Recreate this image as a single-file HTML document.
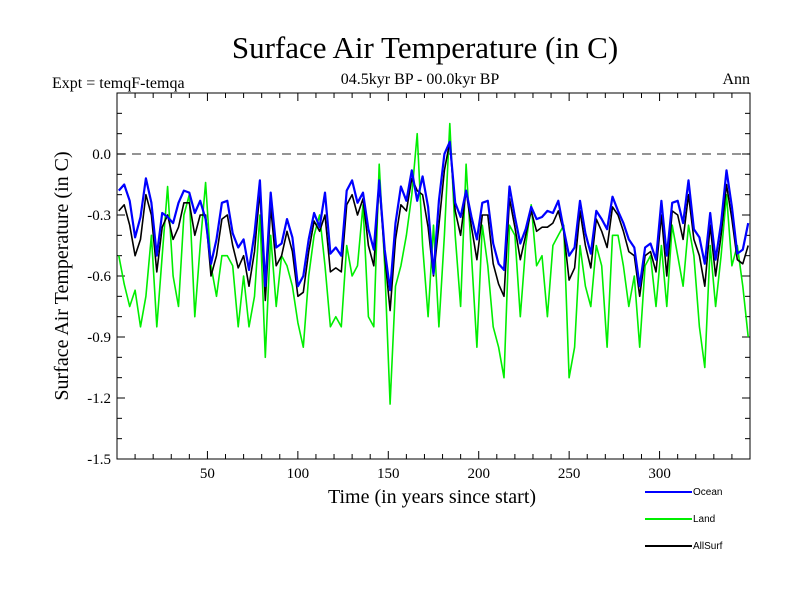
<!DOCTYPE html>
<html>
<head>
<meta charset="utf-8">
<style>
  html,body{margin:0;padding:0;background:#fff;}
  svg{display:block;}
  text{font-family:"Liberation Serif",serif;fill:#000;}
  .lg{font-family:"Liberation Sans",sans-serif;font-size:10px;}
</style>
</head>
<body>
<svg id="chart" width="800" height="600" viewBox="0 0 800 600">
  <text x="425" y="58" font-size="31" text-anchor="middle">Surface Air Temperature (in C)</text>
  <text x="52" y="88" font-size="16">Expt = temqF-temqa</text>
  <text x="420" y="84" font-size="16" text-anchor="middle">04.5kyr BP - 00.0kyr BP</text>
  <text x="750" y="84" font-size="16" text-anchor="end">Ann</text>
  <text transform="translate(68,276) rotate(-90)" font-size="20" text-anchor="middle">Surface Air Temperature (in C)</text>
  <text x="432" y="503" font-size="20" text-anchor="middle">Time (in years since start)</text>
  <g id="axes"></g>
  <g id="series"></g>
  <g>
    <line x1="645" y1="492" x2="692" y2="492" stroke="#0000ff" stroke-width="2"/>
    <text x="693" y="495" class="lg">Ocean</text>
    <line x1="645" y1="519" x2="692" y2="519" stroke="#00ee00" stroke-width="2"/>
    <text x="693" y="522" class="lg">Land</text>
    <line x1="645" y1="546" x2="692" y2="546" stroke="#000" stroke-width="2"/>
    <text x="693" y="549" class="lg">AllSurf</text>
  </g>
</svg>
<script>
const years = [];
for (let y = 1; y <= 349; y += 3) years.push(y);
const ocean = [-0.18,-0.15,-0.23,-0.41,-0.31,-0.12,-0.24,-0.50,-0.29,-0.31,-0.34,-0.24,-0.18,-0.19,-0.29,-0.23,-0.32,-0.54,-0.42,-0.24,
-0.23,-0.39,-0.46,-0.42,-0.57,-0.39,-0.13,-0.65,-0.19,-0.46,-0.44,-0.32,-0.41,-0.65,-0.60,-0.42,-0.29,-0.36,-0.19,-0.49,
-0.46,-0.50,-0.18,-0.13,-0.24,-0.19,-0.37,-0.47,-0.13,-0.47,-0.67,-0.34,-0.16,-0.23,-0.08,-0.23,-0.11,-0.26,-0.59,-0.23,
0.0,0.06,-0.24,-0.31,-0.18,-0.31,-0.42,-0.24,-0.23,-0.44,-0.54,-0.57,-0.16,-0.31,-0.44,-0.37,-0.26,-0.32,-0.31,-0.28,
-0.29,-0.23,-0.37,-0.50,-0.46,-0.23,-0.39,-0.49,-0.28,-0.32,-0.37,-0.21,-0.28,-0.34,-0.42,-0.46,-0.65,-0.46,-0.44,-0.52,
-0.23,-0.50,-0.24,-0.23,-0.34,-0.13,-0.37,-0.41,-0.54,-0.29,-0.52,-0.34,-0.08,-0.26,-0.49,-0.47,-0.34];
const land = [-0.5,-0.64,-0.75,-0.67,-0.85,-0.7,-0.4,-0.85,-0.5,-0.16,-0.6,-0.75,-0.3,-0.2,-0.8,-0.45,-0.14,-0.55,-0.7,-0.5,
-0.5,-0.55,-0.85,-0.6,-0.85,-0.7,-0.3,-1.0,-0.4,-0.75,-0.5,-0.55,-0.65,-0.83,-0.95,-0.6,-0.4,-0.3,-0.55,-0.85,
-0.8,-0.85,-0.45,-0.6,-0.55,-0.25,-0.8,-0.85,-0.05,-0.55,-1.23,-0.65,-0.55,-0.4,-0.2,0.1,-0.45,-0.8,-0.35,-0.85,
-0.4,0.15,-0.4,-0.75,-0.05,-0.5,-0.95,-0.35,-0.55,-0.85,-0.95,-1.1,-0.35,-0.4,-0.8,-0.45,-0.25,-0.55,-0.5,-0.8,
-0.45,-0.4,-0.35,-1.1,-0.95,-0.45,-0.65,-0.75,-0.45,-0.55,-0.95,-0.4,-0.4,-0.55,-0.75,-0.6,-0.95,-0.55,-0.5,-0.75,
-0.45,-0.75,-0.35,-0.5,-0.65,-0.35,-0.5,-0.85,-1.05,-0.45,-0.75,-0.5,-0.2,-0.55,-0.45,-0.65,-0.9];
const allSurf = [-0.28,-0.25,-0.35,-0.5,-0.42,-0.2,-0.3,-0.58,-0.36,-0.3,-0.42,-0.36,-0.24,-0.24,-0.4,-0.3,-0.3,-0.6,-0.5,-0.32,
-0.3,-0.45,-0.56,-0.5,-0.65,-0.48,-0.18,-0.72,-0.26,-0.55,-0.5,-0.38,-0.48,-0.7,-0.68,-0.48,-0.33,-0.38,-0.3,-0.58,
-0.56,-0.58,-0.25,-0.2,-0.3,-0.22,-0.45,-0.55,-0.15,-0.5,-0.77,-0.42,-0.25,-0.28,-0.12,-0.18,-0.2,-0.36,-0.6,-0.35,
-0.08,0.06,-0.28,-0.4,-0.18,-0.36,-0.52,-0.3,-0.3,-0.54,-0.64,-0.7,-0.22,-0.36,-0.52,-0.4,-0.28,-0.38,-0.36,-0.36,
-0.34,-0.28,-0.38,-0.62,-0.56,-0.28,-0.45,-0.56,-0.32,-0.38,-0.46,-0.26,-0.3,-0.38,-0.48,-0.5,-0.7,-0.5,-0.48,-0.58,
-0.3,-0.6,-0.28,-0.3,-0.42,-0.2,-0.42,-0.5,-0.65,-0.35,-0.6,-0.4,-0.15,-0.32,-0.52,-0.54,-0.45];
const yTickValues = [0.0,-0.3,-0.6,-0.9,-1.2,-1.5];
const yTickLabels = ["0.0","-0.3","-0.6","-0.9","-1.2","-1.5"];
const xTickValues = [50,100,150,200,250,300];
const xTickLabels = ["50","100","150","200","250","300"];

const NS = "http://www.w3.org/2000/svg";
const L = 117, R = 750, T = 93, B = 459;
const xMin = 0, xMax = 350, yMin = -1.5, yMax = 0.3;
function xs(v){ return L + (v - xMin) / (xMax - xMin) * (R - L); }
function ys(v){ return B - (v - yMin) / (yMax - yMin) * (B - T); }
function mk(tag, attrs, parent){
  const e = document.createElementNS(NS, tag);
  for (const k in attrs) e.setAttribute(k, attrs[k]);
  parent.appendChild(e);
  return e;
}
const axes = document.getElementById('axes');
const frame = mk('rect', {x:L, y:T, width:R-L, height:B-T, fill:'none', stroke:'#000', 'stroke-width':1}, axes);


const zero = mk('line', {x1:L, x2:R, y1:ys(0), y2:ys(0), stroke:'#555', 'stroke-width':1.2, 'stroke-dasharray':'9,6'}, axes);


// minor y ticks every 0.1
for (let i = 0; i <= 18; i++) {
  const v = yMin + i * 0.1;
  const major = Math.abs((v * 10) % 3) < 0.01 || Math.abs(Math.abs((v * 10) % 3) - 3) < 0.01;
  const len = major ? 8 : 5;
  mk('line', {x1:L, x2:L+len, y1:ys(v), y2:ys(v), stroke:'#000'}, axes);
  mk('line', {x1:R, x2:R-len, y1:ys(v), y2:ys(v), stroke:'#000'}, axes);
}
for (let x = 10; x < 350; x += 10) {
  const len = x % 50 === 0 ? 8 : 5;
  mk('line', {x1:xs(x), x2:xs(x), y1:B, y2:B-len, stroke:'#000'}, axes);
  mk('line', {x1:xs(x), x2:xs(x), y1:T, y2:T+len, stroke:'#000'}, axes);
}
yTickValues.forEach((v, i) => {
  const t = mk('text', {x:L-6, y:ys(v)+5, 'font-size':15, 'text-anchor':'end'}, axes);
  t.textContent = yTickLabels[i];
  
  
});
xTickValues.forEach((v, i) => {
  const t = mk('text', {x:xs(v), y:B+19, 'font-size':15, 'text-anchor':'middle'}, axes);
  t.textContent = xTickLabels[i];
  
  
});
const series = document.getElementById('series');
function drawLine(vals, color, w, name){
  const d = vals.map((v, i) => (i ? 'L' : 'M') + xs(years[i]).toFixed(1) + ',' + ys(v).toFixed(1)).join(' ');
  const p = mk('path', {d:d, fill:'none', stroke:color, 'stroke-width':w, 'stroke-linejoin':'round'}, series);
  
  
}
drawLine(land, '#00ee00', 1.6, 'land-line');
drawLine(allSurf, '#000000', 1.6, 'allsurf-line');
drawLine(ocean, '#0000ff', 2.2, 'ocean-line');
</script>
</body>
</html>
